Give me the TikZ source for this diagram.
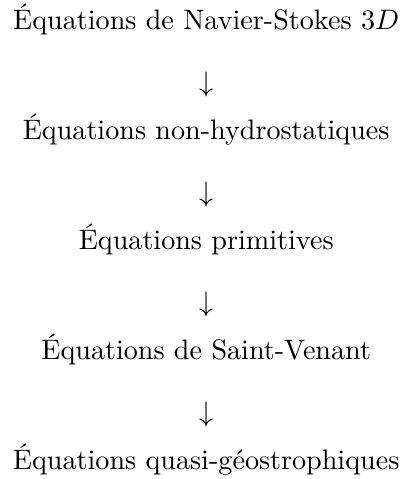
\documentclass[tikz,border=0pt]{standalone}
\usepackage{amsmath,amssymb}
\usepackage{tikz}
\usetikzlibrary{positioning}

\begin{document}
\begin{tikzpicture}[
  every node/.style={inner sep=0pt},
  eq/.style={anchor=base},
  dn/.style={anchor=center},
]
% Hierarchy of models
\node[eq] (ns)   at (0,0)         {Équations de Navier-Stokes $3D$};
\node[dn] (a1)   at (0,-19.55pt)  {$\downarrow$};
\node[eq] (nh)   at (0,-39.1pt)   {Équations non-hydrostatiques};
\node[dn] (a2)   at (0,-58.65pt)  {$\downarrow$};
\node[eq] (prim) at (0,-78.2pt)   {Équations primitives};
\node[dn] (a3)   at (0,-97.75pt)  {$\downarrow$};
\node[eq] (sv)   at (0,-117.3pt)  {Équations de Saint-Venant};
\node[dn] (a4)   at (0,-136.85pt) {$\downarrow$};
\node[eq] (qg)   at (0,-156.4pt)  {Équations quasi-géostrophiques};

% Margins
\useasboundingbox ([xshift=-4.5pt,yshift=1.2pt]ns.north west) rectangle ([xshift=1pt,yshift=-1.1pt]ns.east |- qg.south);
\end{tikzpicture}
\end{document}
